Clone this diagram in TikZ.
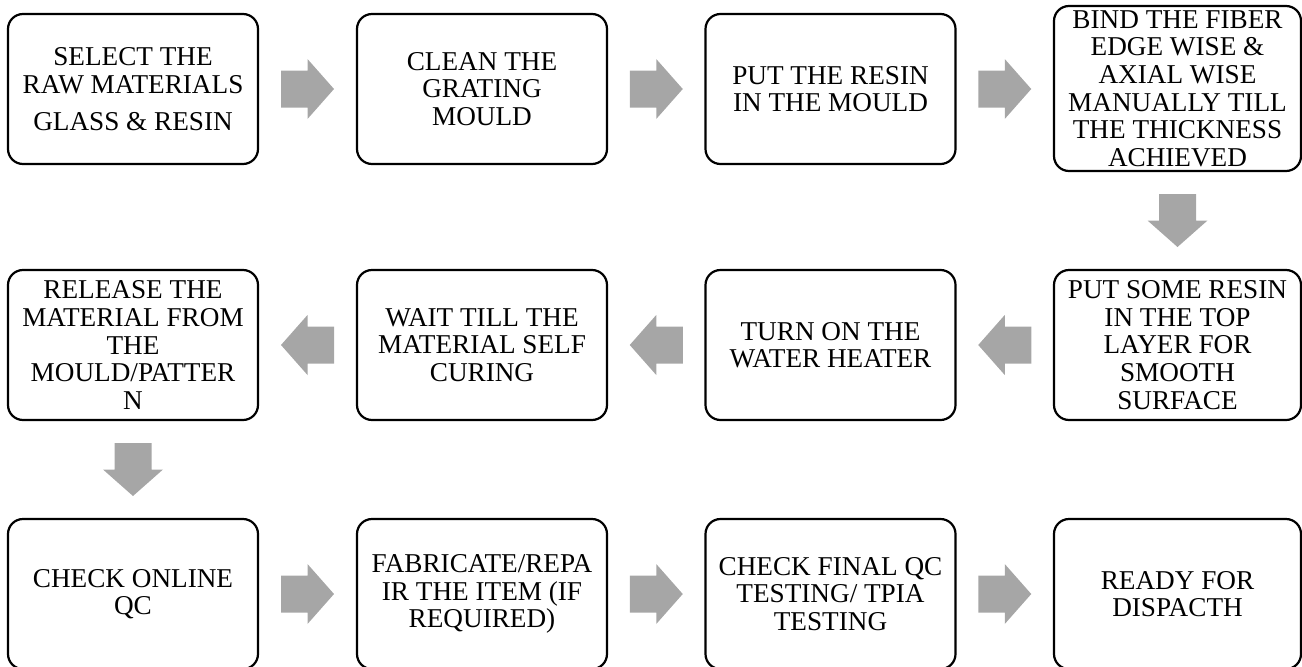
\documentclass[tikz,border=0pt]{standalone}
\usepackage{fontspec}
\setmainfont{Liberation Serif}
\usetikzlibrary{calc}
\definecolor{arrowgray}{RGB}{166,166,166}
\begin{document}
\begin{tikzpicture}[x=1pt,y=-1pt,
  stepbox/.style={draw=black, line width=2.2pt, rounded corners=15pt,
    minimum width=250pt, minimum height=150pt, align=center, inner sep=0pt,
    font=\fontsize{27.2}{27.6}\selectfont, fill=white},
  widebox/.style={stepbox, minimum width=247pt},
  blockarrow/.pic={\fill[arrowgray] (-26.5,-18.5) -- (0,-18.5) -- (0,-30) -- (26.5,0) -- (0,30) -- (0,18.5) -- (-26.5,18.5) -- cycle;}
]
\useasboundingbox (0,0) rectangle (1302,667);
% row 1
\node[stepbox] (s1) at (133,89) {SELECT THE\\RAW MATERIALS\\[9.5pt]GLASS \& RESIN};
\node[stepbox] (s2) at (482,89) {CLEAN THE\\GRATING\\MOULD};
\node[stepbox] (s3) at (830.5,89) {PUT THE RESIN\\IN THE MOULD};
\node[widebox, minimum height=165pt] (s4) at (1177.5,88.5) {BIND THE FIBER\\EDGE WISE \&\\AXIAL WISE\\MANUALLY TILL\\THE THICKNESS\\ACHIEVED};
% row 2
\node[widebox] (s5) at (1177.5,345) {PUT SOME RESIN\\IN THE TOP\\LAYER FOR\\SMOOTH\\SURFACE};
\node[stepbox] (s6) at (830.5,345) {TURN ON THE\\WATER HEATER};
\node[stepbox] (s7) at (482,345) {WAIT TILL THE\\MATERIAL SELF\\CURING};
\node[stepbox] (s8) at (133,345) {RELEASE THE\\MATERIAL FROM\\THE\\MOULD/PATTER\\N};
% row 3
\node[stepbox] (s9) at (133,594) {CHECK ONLINE\\QC};
\node[stepbox] (s10) at (482,594) {FABRICATE/REPA\\IR THE ITEM (IF\\REQUIRED)};
\node[stepbox] (s11) at (830.5,594) {CHECK FINAL QC\\TESTING/ TPIA\\TESTING};
\node[widebox] (s12) at (1177.5,594) {READY FOR\\DISPACTH};
% arrows
\path (s1.east) -- (s2.west) coordinate[midway] (a1);
\path (s2.east) -- (s3.west) coordinate[midway] (a2);
\path (s3.east) -- (s4.west |- s3.east) coordinate[midway] (a3);
\path (s4.south) -- (s5.north) coordinate[midway] (a4);
\path (s5.west) -- (s6.east) coordinate[midway] (a5);
\path (s6.west) -- (s7.east) coordinate[midway] (a6);
\path (s7.west) -- (s8.east) coordinate[midway] (a7);
\path (s8.south) -- (s9.north) coordinate[midway] (a8);
\path (s9.east) -- (s10.west) coordinate[midway] (a9);
\path (s10.east) -- (s11.west) coordinate[midway] (a10);
\path (s11.east) -- (s12.west) coordinate[midway] (a11);
\pic at (a1) {blockarrow};
\pic at (a2) {blockarrow};
\pic at (a3) {blockarrow};
\pic[rotate=-90] at (a4) {blockarrow};
\pic[rotate=180] at (a5) {blockarrow};
\pic[rotate=180] at (a6) {blockarrow};
\pic[rotate=180] at (a7) {blockarrow};
\pic[rotate=-90] at (a8) {blockarrow};
\pic at (a9) {blockarrow};
\pic at (a10) {blockarrow};
\pic at (a11) {blockarrow};
\end{tikzpicture}
\end{document}
